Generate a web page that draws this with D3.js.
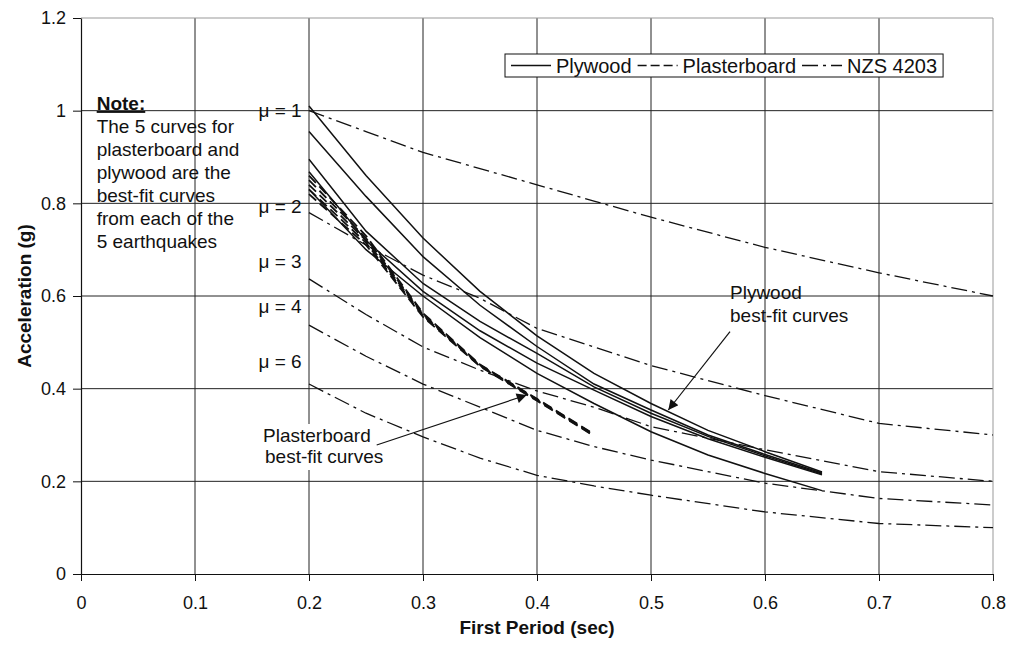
<!DOCTYPE html>
<html>
<head>
<meta charset="utf-8">
<script src="https://cdn.jsdelivr.net/npm/d3@7"></script>
<style>
  body { margin: 0; background: #fff; }
  svg { display: block; font-family: "Liberation Sans", Arial, sans-serif; }
</style>
</head>
<body>
<svg id="chart" width="1010" height="646"></svg>
<script>
// ---- data ----
const xTicks = [0, 0.1, 0.2, 0.3, 0.4, 0.5, 0.6, 0.7, 0.8];
const yTicks = [0, 0.2, 0.4, 0.6, 0.8, 1, 1.2];

const nzsPeriods = [0.2, 0.25, 0.3, 0.35, 0.4, 0.45, 0.5, 0.6, 0.7, 0.8];
const nzsMu1 = [1.0, 0.955, 0.91, 0.875, 0.84, 0.805, 0.77, 0.705, 0.65, 0.60];
const nzsMu2 = [0.78, 0.71, 0.645, 0.595, 0.53, 0.49, 0.45, 0.385, 0.325, 0.30];
const nzsMu3 = [0.637, 0.56, 0.49, 0.44, 0.395, 0.36, 0.318, 0.268, 0.221, 0.20];
const nzsMu4 = [0.537, 0.47, 0.41, 0.36, 0.31, 0.275, 0.246, 0.196, 0.163, 0.149];
const nzsMu6 = [0.41, 0.347, 0.296, 0.25, 0.213, 0.19, 0.17, 0.134, 0.109, 0.10];
const muLabels = ["\u03BC = 1", "\u03BC = 2", "\u03BC = 3", "\u03BC = 4", "\u03BC = 6"];

const plyPeriods = [0.2, 0.25, 0.3, 0.35, 0.4, 0.45, 0.5, 0.55, 0.6, 0.65];
const ply1 = [1.01, 0.86, 0.725, 0.61, 0.514, 0.433, 0.368, 0.31, 0.264, 0.22];
const ply2 = [0.955, 0.815, 0.685, 0.58, 0.491, 0.41, 0.354, 0.30, 0.258, 0.218];
const ply3 = [0.895, 0.74, 0.627, 0.545, 0.476, 0.404, 0.347, 0.297, 0.255, 0.216];
const ply4 = [0.868, 0.72, 0.61, 0.525, 0.455, 0.397, 0.34, 0.292, 0.252, 0.214];
const ply5 = [0.83, 0.70, 0.60, 0.51, 0.433, 0.368, 0.307, 0.257, 0.217, 0.18];

const pbPeriods = [0.2, 0.25, 0.3, 0.35, 0.4, 0.45];
const pb1 = [0.86, 0.73, 0.563, 0.452, 0.378, 0.302];
const pb2 = [0.85, 0.725, 0.561, 0.451, 0.377, 0.301];
const pb3 = [0.84, 0.72, 0.559, 0.45, 0.376, 0.30];
const pb4 = [0.83, 0.715, 0.557, 0.449, 0.375, 0.299];
const pb5 = [0.82, 0.71, 0.555, 0.448, 0.374, 0.298];

const legendLabels = ["Plywood", "Plasterboard", "NZS 4203"];
const noteLines = ["The 5 curves for", "plasterboard and", "plywood are the", "best-fit curves", "from each of the", "5 earthquakes"];

// ---- layout ----
const svg = d3.select("#chart");
const x = d3.scaleLinear().domain([0, 0.8]).range([81, 993]);
const y = d3.scaleLinear().domain([0, 1.2]).range([574, 18]);
const FS = 19;

// gridlines
const grid = svg.append("g");
grid.selectAll("line.v").data(xTicks.filter(t => t > 0 && t < 0.8)).join("line")
  .attr("x1", d => x(d)).attr("x2", d => x(d)).attr("y1", y(1.2)).attr("y2", y(0))
  .attr("stroke", "#222").attr("stroke-width", 1);
grid.selectAll("line.h").data(yTicks.filter(t => t > 0 && t < 1.2)).join("line")
  .attr("x1", x(0)).attr("x2", x(0.8)).attr("y1", d => y(d)).attr("y2", d => y(d))
  .attr("stroke", "#222").attr("stroke-width", 1);
grid.append("line").attr("x1", x(0)).attr("x2", x(0.8)).attr("y1", y(1.2)).attr("y2", y(1.2))
  .attr("stroke", "#999").attr("stroke-width", 1);
grid.append("line").attr("x1", x(0.8)).attr("x2", x(0.8)).attr("y1", y(1.2)).attr("y2", y(0))
  .attr("stroke", "#999").attr("stroke-width", 1);

// axes
const fmt = d => d3.format("")(+(+d).toFixed(1));
const xAxis = svg.append("g").attr("transform", `translate(0,${y(0)})`)
  .call(d3.axisBottom(x).tickValues(xTicks).tickSize(7).tickPadding(15).tickSizeOuter(0).tickFormat(fmt));
const yAxis = svg.append("g").attr("transform", `translate(${x(0)},0)`)
  .call(d3.axisLeft(y).tickValues(yTicks).tickSize(8).tickPadding(7).tickSizeOuter(0).tickFormat(fmt));
[xAxis, yAxis].forEach(g => {
  g.selectAll("text").attr("font-size", 18).attr("fill", "#111").attr("font-family", "'Liberation Sans', Arial, sans-serif");
  g.selectAll("line").attr("stroke", "#111");
  g.select(".domain").attr("stroke", "#111").attr("stroke-width", 1.2);
});

// axis titles
svg.append("text").attr("x", (x(0) + x(0.8)) / 2).attr("y", 634)
  .attr("text-anchor", "middle").attr("font-size", FS).attr("font-weight", "bold").attr("fill", "#111")
  .text("First Period (sec)");
svg.append("text").attr("transform", `translate(31,${(y(0) + y(1.2)) / 2}) rotate(-90)`)
  .attr("text-anchor", "middle").attr("font-size", FS).attr("font-weight", "bold").attr("fill", "#111")
  .text("Acceleration (g)");

// lines
const line = d3.line().x(d => x(d[0])).y(d => y(d[1]));
const zipT = (ts, vs) => ts.map((t, i) => [t, vs[i]]);

const nzs = [nzsMu1, nzsMu2, nzsMu3, nzsMu4, nzsMu6];
svg.append("g").selectAll("path").data(nzs).join("path")
  .attr("d", d => line(zipT(nzsPeriods, d)))
  .attr("fill", "none").attr("stroke", "#111").attr("stroke-width", 1.3)
  .attr("stroke-dasharray", "16,5,3,5");

const pbs = [pb1, pb2, pb3, pb4, pb5];
svg.append("g").selectAll("path").data(pbs).join("path")
  .attr("d", d => line(zipT(pbPeriods, d)))
  .attr("pathLength", 390)
  .attr("fill", "none").attr("stroke", "#111").attr("stroke-width", 1.8)
  .attr("stroke-dasharray", "10,5");

const plys = [ply1, ply2, ply3, ply4, ply5];
svg.append("g").selectAll("path").data(plys).join("path")
  .attr("d", d => line(zipT(plyPeriods, d)))
  .attr("fill", "none").attr("stroke", "#111").attr("stroke-width", 1.5);

// mu labels
const muY = [117, 212.7, 268.3, 312.7, 368.3];
svg.append("g").selectAll("text").data(muLabels).join("text")
  .attr("x", 301.7).attr("y", (d, i) => muY[i]).attr("text-anchor", "end")
  .attr("font-size", FS).attr("fill", "#111").text(d => d);

// note
const note = svg.append("text").attr("x", 96.7).attr("y", 110).attr("font-size", FS).attr("fill", "#111");
note.append("tspan").attr("font-weight", "bold").attr("text-decoration", "underline").text("Note:");
svg.append("g").selectAll("text").data(noteLines).join("text")
  .attr("x", 96.7).attr("y", (d, i) => 133 + i * 23).attr("font-size", FS).attr("fill", "#111").text(d => d);

// annotations
const defs = svg.append("defs");
defs.append("marker").attr("id", "arr").attr("viewBox", "0 0 10 10").attr("refX", 10).attr("refY", 5)
  .attr("markerWidth", 14).attr("markerHeight", 10).attr("markerUnits", "userSpaceOnUse").attr("orient", "auto")
  .append("path").attr("d", "M0,0 L10,5 L0,10 z").attr("fill", "#111");

svg.append("line").attr("x1", 730).attr("y1", 331.7).attr("x2", 668.3).attr("y2", 410)
  .attr("stroke", "#111").attr("stroke-width", 1.2).attr("marker-end", "url(#arr)");
svg.append("text").attr("x", 730).attr("y", 299.3).attr("font-size", FS).attr("fill", "#111").text("Plywood");
svg.append("text").attr("x", 730).attr("y", 321.7).attr("font-size", FS).attr("fill", "#111").text("best-fit curves");

svg.append("rect").attr("x", 260).attr("y", 424).attr("width", 122).attr("height", 46).attr("fill", "#fff");
svg.append("line").attr("x1", 376.7).attr("y1", 445).attr("x2", 526.7).attr("y2", 395)
  .attr("stroke", "#111").attr("stroke-width", 1.2).attr("marker-end", "url(#arr)");
svg.append("text").attr("x", 263).attr("y", 441.7).attr("font-size", FS).attr("fill", "#111").text("Plasterboard");
svg.append("text").attr("x", 265).attr("y", 463.3).attr("font-size", FS).attr("fill", "#111").text("best-fit curves");

// legend
const lg = svg.append("g");
const lgX = 505, lgY = 54, lgH = 23;
const dashes = [null, "9,4", "16,5,3,5"];
let cx = lgX + 6;
legendLabels.forEach((lab, i) => {
  const g = lg.append("g");
  g.append("line").attr("x1", cx).attr("x2", cx + 40).attr("y1", lgY + lgH / 2).attr("y2", lgY + lgH / 2)
    .attr("stroke", "#111").attr("stroke-width", 1.3).attr("stroke-dasharray", dashes[i]);
  const t = g.append("text").attr("x", cx + 45).attr("y", lgY + lgH / 2 + 7).attr("font-size", 20).attr("fill", "#111").text(lab);
  cx += 45 + t.node().getComputedTextLength() + 6;
});
lg.insert("rect", ":first-child").attr("x", lgX).attr("y", lgY).attr("width", cx - lgX).attr("height", lgH)
  .attr("fill", "#fff").attr("stroke", "#111").attr("stroke-width", 1);
</script>
</body>
</html>
